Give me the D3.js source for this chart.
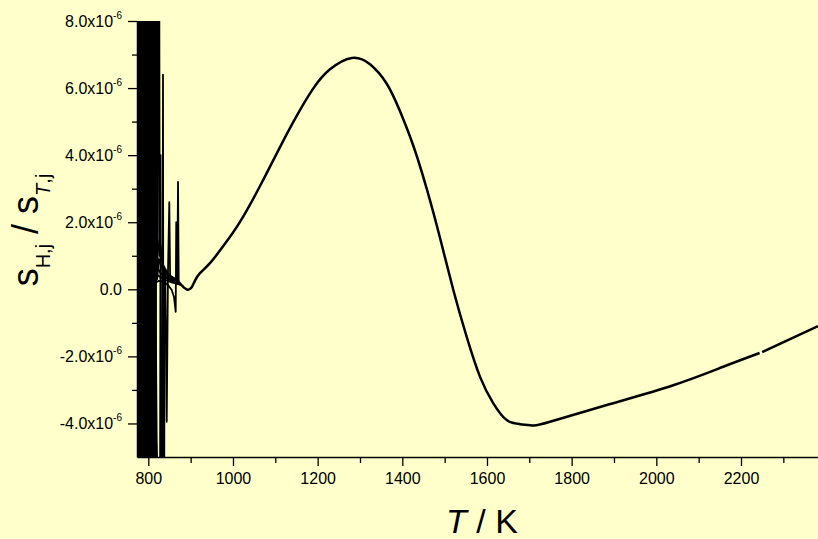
<!DOCTYPE html>
<html>
<head>
<meta charset="utf-8">
<script src="https://cdn.jsdelivr.net/npm/d3@7/dist/d3.min.js"></script>
<style>
  html, body { margin: 0; padding: 0; background: #ffffcc; }
  svg { display: block; }
  text { font-family: "Liberation Sans", Arial, Helvetica, sans-serif; fill: #000; }
</style>
</head>
<body>
<svg id="chart" width="818" height="539"></svg>
<script>
// Temperature axis ticks (K)
const xMajorTicks = [800, 1000, 1200, 1400, 1600, 1800, 2000, 2200];
const xMinorTicks = [900, 1100, 1300, 1500, 1700, 1900, 2100, 2300];
// Ratio axis ticks, in units of 10^-6
const yMajorTicks = [-4, -2, 0, 2, 4, 6, 8];
const yMinorTicks = [-3, -1, 1, 3, 5, 7];

// Converged ratio s_H,j / s_T,j (T in K, value in 10^-6); null marks a break in the trace
const mainCurve = [
  [878.9, 0.13], [884.3, 0.05], [890.7, 0.0], [895, -0.01], [902.5, 0.06], [910.3, 0.26],
  [922.1, 0.48], [945.7, 0.78], [977.2, 1.29], [1016.6, 2.01], [1063.9, 3.08], [1111.1, 4.24],
  [1150.5, 5.17], [1189.8, 5.99], [1229.2, 6.56], [1280.5, 6.90], [1323.7, 6.71],
  [1363.2, 6.13], [1394.6, 5.31], [1426.0, 4.28], [1457.6, 3.0], [1489.1, 1.53],
  [1520.5, -0.02], [1552.1, -1.42], [1583.6, -2.61], [1615.0, -3.40], [1646.6, -3.90],
  [1678.1, -4.02], [1709.5, -4.06], [1748.9, -3.95], [1883, -3.45], [2040, -2.86],
  [2158, -2.31], [2244, -1.90], [2247, null], [2250, -1.87], [2382, -1.10]
];

// Unconverged traces at low temperature (T in K, value in 10^-6)
const traceA = [
  [773, -25], [775, 28], [777.5, -30], [780, 26], [782.5, -28], [785, 30], [787, -26],
  [789.5, 27], [792, -30], [794.5, 29], [797, -27], [799.5, 30], [802, -28], [804.5, 26],
  [807, -30], [809.5, 28], [812, -25], [814.5, 27], [817, 0.8], [819.5, 24], [822, 0.6],
  [824.5, 20], [827, 1.0], [829, 1.3], [838, 0.45], [855, 0.25], [878, 0.13]
];
const traceB = [
  [774, 20], [776.3, -22], [778.8, 25], [781.2, -24], [783.8, 22], [786.3, -26], [788.7, 24],
  [791.3, -23], [793.8, 25], [796.2, -22], [798.8, 24], [801.2, -25], [803.8, 21], [806.3, -24],
  [808.7, 22], [811.3, 0.5], [813.8, 19], [816.5, -18], [819, 6.8], [821, 0.3], [825, 0.9],
  [840, 0.35], [878, 0.13]
];
const traceC = [
  [778, 14], [782.8, 6.84], [790, 3.6], [797.6, 1.87], [805, 1.25], [813.5, 0.88], [821, 0.64],
  [829.3, 0.48], [841, 0.36], [852.9, 0.28], [866, 0.2], [878.9, 0.13]
];
const traceD = [
  [800, 16], [804, 5.05], [811, 2.9], [818.2, 1.77], [826, 1.1], [834.7, 0.73], [845, 0.5],
  [856, 0.34], [867, 0.23], [877.2, 0.16]
];
const traceE = [
  [774, 7], [778, 2.67], [785, 1.7], [792.2, 1.17], [800, 0.85], [808.7, 0.64], [822, 0.42],
  [839.4, 0.28], [857, 0.2], [874.9, 0.14]
];
const traceF = [
  [773.3, -1.21], [780, -0.75], [789.8, -0.32], [800, -0.02], [813.5, 0.18], [825, 0.25],
  [837.1, 0.23], [847, 0.12], [855.3, -0.02], [860.7, -0.23], [864.7, -0.67], [866, 2.0],
  [868, 0.3], [878, 0.13]
];
const traceG = [
  [826, -20], [829, 4], [831.5, -22], [834.7, 6.4], [836.5, -14], [838.5, 0.6], [850, 0.3],
  [878, 0.13]
];
const traceH = [
  [836, 0.6], [840, 0.5], [843.5, -3.95], [846.5, 0.5], [849.6, 2.6], [851.5, 0.35],
  [865, 0.2], [878, 0.13]
];
const traceI = [
  [852, 0.4], [868.5, 0.28], [870.2, 3.2], [871.8, 0.22], [878, 0.13]
];
const traceJ = [
  [790, -9], [796.2, -2.4], [800, -2.4], [808, -2.65], [816, -3.6], [826, -7]
];
const traceK = [
  [805, 2.0], [812, 0.9], [818, -1.5], [822, -8]
];
const traceL = [
  [798, 1.0], [806, -0.6], [812, -2.4], [815, -8]
];
const lowTraces = [traceA, traceB, traceC, traceD, traceE, traceF, traceG, traceH, traceI, traceJ, traceK, traceL];

const svg = d3.select("#chart");
const plotLeft = 137, plotRight = 818, plotTop = 21, plotBottom = 457;

const x = d3.scaleLinear().domain([773.3, 2381.9]).range([plotLeft, plotRight]);
const y = d3.scaleLinear().domain([-5, 8]).range([plotBottom, plotTop]);

svg.append("defs").append("clipPath").attr("id", "plotClip")
  .append("rect").attr("x", plotLeft).attr("y", plotTop)
  .attr("width", plotRight - plotLeft).attr("height", plotBottom - plotTop);

const plot = svg.append("g").attr("clip-path", "url(#plotClip)");

const traceLine = d3.line()
  .x(d => x(d[0]))
  .y(d => y(d[1]));

const smoothLine = d3.line()
  .defined(d => d[1] !== null)
  .x(d => x(d[0]))
  .y(d => y(d[1]))
  .curve(d3.curveNatural);

plot.selectAll("path.trace")
  .data(lowTraces)
  .join("path")
  .attr("class", "trace")
  .attr("d", traceLine)
  .attr("fill", "none")
  .attr("stroke", "#000")
  .attr("stroke-width", 1.8)
  .attr("stroke-linejoin", "round");

plot.append("path")
  .datum(mainCurve)
  .attr("d", smoothLine)
  .attr("fill", "none")
  .attr("stroke", "#000")
  .attr("stroke-width", 2.5)
  .attr("stroke-linejoin", "round");

// Axes
const axisStyle = g => {
  g.select(".domain").attr("stroke", "#000").attr("stroke-width", 1.5);
  g.selectAll(".tick line").attr("stroke", "#000").attr("stroke-width", 1.3);
};

const xAxis = svg.append("g").attr("transform", `translate(0,${plotBottom})`)
  .call(d3.axisBottom(x).tickValues(xMajorTicks).tickSize(9).tickSizeOuter(0).tickPadding(4)
    .tickFormat(d3.format("d")))
  .call(axisStyle);
xAxis.selectAll("text").attr("font-size", 16).attr("font-family", "Liberation Sans, Arial, sans-serif")
  .attr("y", 16).attr("dy", "0.71em");

svg.append("g").attr("transform", `translate(0,${plotBottom})`)
  .call(d3.axisBottom(x).tickValues(xMinorTicks).tickSize(6).tickSizeOuter(0).tickFormat(""))
  .call(axisStyle)
  .call(g => g.select(".domain").remove());

svg.append("g").attr("transform", `translate(${plotLeft},0)`)
  .call(d3.axisLeft(y).tickValues(yMajorTicks).tickSize(9).tickSizeOuter(0).tickFormat(""))
  .call(axisStyle);

svg.append("g").attr("transform", `translate(${plotLeft},0)`)
  .call(d3.axisLeft(y).tickValues(yMinorTicks).tickSize(5).tickSizeOuter(0).tickFormat(""))
  .call(axisStyle)
  .call(g => g.select(".domain").remove());

// y tick labels with exponent as superscript
yMajorTicks.forEach(v => {
  const t = svg.append("text")
    .attr("x", 122)
    .attr("y", y(v) + 6)
    .attr("text-anchor", "end")
    .attr("font-size", 16);
  if (v === 0) {
    t.text("0.0");
  } else {
    t.append("tspan").text(v.toFixed(1) + "x10");
    t.append("tspan").attr("dy", -8).attr("font-size", 10).text("-6");
  }
});

// x axis title
const xt = svg.append("text")
  .attr("x", 482).attr("y", 533)
  .attr("text-anchor", "middle")
  .attr("font-size", 34);
xt.append("tspan").attr("font-style", "italic").text("T");
xt.append("tspan").text(" / K");

// y axis title
const yt = svg.append("text")
  .attr("transform", "translate(38,230) rotate(-90)")
  .attr("text-anchor", "middle")
  .attr("font-size", 36);
yt.append("tspan").text("s");
yt.append("tspan").attr("dy", 12).attr("font-size", 20).text("H,j");
yt.append("tspan").attr("dy", -12).text(" / s");
yt.append("tspan").attr("dy", 12).attr("font-size", 20).attr("font-style", "italic").text("T");
yt.append("tspan").attr("font-size", 20).text(",j");
</script>
</body>
</html>
